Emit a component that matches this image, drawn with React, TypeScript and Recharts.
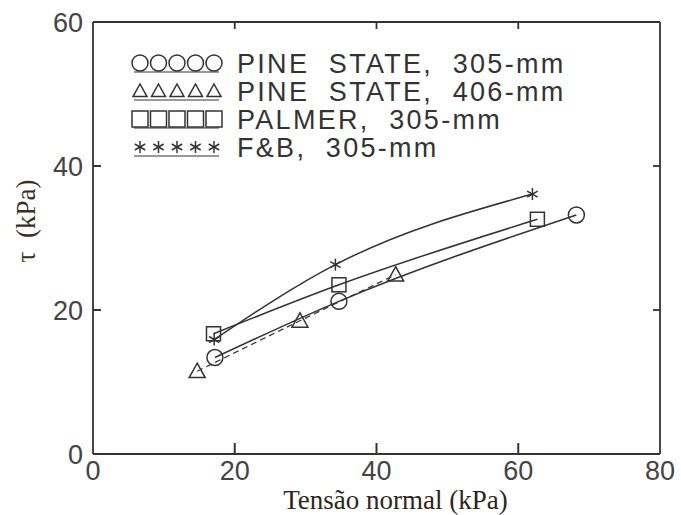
import React from 'react';
import { ComposedChart, Line, XAxis, YAxis, ReferenceLine, Scatter } from 'recharts';

const X_TICKS = [0, 20, 40, 60, 80];
const Y_TICKS = [0, 20, 40, 60];
const SERIES_LABELS = ['PINE  STATE,  305-mm', 'PINE  STATE,  406-mm', 'PALMER,  305-mm', 'F&B,  305-mm'];

const pineState305 = [
  { x: 17.2, y: 13.4 },
  { x: 34.7, y: 21.2 },
  { x: 68.2, y: 33.2 },
];
const pineState406 = [
  { x: 14.7, y: 11.5 },
  { x: 29.2, y: 18.5 },
  { x: 42.7, y: 24.9 },
];
const palmer305 = [
  { x: 17.0, y: 16.7 },
  { x: 34.7, y: 23.5 },
  { x: 62.7, y: 32.6 },
];
const fb305 = [
  { x: 17.1, y: 15.9 },
  { x: 34.2, y: 26.3 },
  { x: 62.0, y: 36.1 },
];

const INK = '#333';
const FONT = 'Liberation Sans, Arial, sans-serif';
const X_MIN = X_TICKS[0];
const X_MAX = X_TICKS[X_TICKS.length - 1];
const Y_MIN = Y_TICKS[0];
const Y_MAX = Y_TICKS[Y_TICKS.length - 1];
const INNER_X = X_TICKS.slice(1, -1);
const INNER_Y = Y_TICKS.slice(1, -1);

// tick anchor points on the frame, derived from the tick arrays
const bottomTickPts = INNER_X.map((v) => ({ x: v, y: Y_MIN }));
const topTickPts = INNER_X.map((v) => ({ x: v, y: Y_MAX }));
const leftTickPts = INNER_Y.map((v) => ({ x: X_MIN, y: v }));
const rightTickPts = INNER_Y.map((v) => ({ x: X_MAX, y: v }));

const circleShape = (cx: number, cy: number, r = 8) => (
  <circle cx={cx} cy={cy} r={r} fill="none" stroke={INK} strokeWidth={1.5} />
);
const triangleShape = (cx: number, cy: number, s = 8) => (
  <path d={`M${cx},${cy - s} L${cx + s},${cy + s * 0.8} L${cx - s},${cy + s * 0.8} Z`} fill="none" stroke={INK} strokeWidth={1.5} />
);
const squareShape = (cx: number, cy: number, s = 7) => (
  <rect x={cx - s} y={cy - s} width={2 * s} height={2 * s} fill="none" stroke={INK} strokeWidth={1.5} />
);
const starShape = (cx: number, cy: number, s = 6) => (
  <g stroke={INK} strokeWidth={1.5}>
    <line x1={cx} y1={cy - s} x2={cx} y2={cy + s} />
    <line x1={cx - s * 0.87} y1={cy - s * 0.5} x2={cx + s * 0.87} y2={cy + s * 0.5} />
    <line x1={cx - s * 0.87} y1={cy + s * 0.5} x2={cx + s * 0.87} y2={cy - s * 0.5} />
  </g>
);

const SHAPES = [circleShape, triangleShape, squareShape, starShape];

const makeDot = (shape: (cx: number, cy: number) => React.ReactElement) => (props: any) => (
  <g key={`d-${props.index}-${props.cx}`}>{shape(props.cx, props.cy)}</g>
);

const tickMark = (dx: number, dy: number, w: number) => (props: any) => {
  const { cx, cy } = props;
  if (cx == null || cy == null) return <g />;
  return <line x1={cx} y1={cy} x2={cx + dx} y2={cy + dy} stroke={INK} strokeWidth={w} />;
};

const BottomTick = (props: any) => {
  const { x, y, payload } = props;
  return (
    <text x={x} y={y + 22} textAnchor="middle" fontFamily={FONT} fontSize={27} fill="#444">
      {payload.value}
    </text>
  );
};
const LeftTick = (props: any) => {
  const { x, y, payload } = props;
  return (
    <text x={x} y={y + 10} textAnchor="end" fontFamily={FONT} fontSize={27} fill="#444">
      {payload.value}
    </text>
  );
};

const LegendBox = () => (
  <svg width={500} height={125} style={{ display: 'block' }}>
    {SERIES_LABELS.map((label, i) => {
      const cy = 14 + i * 28;
      const shape = SHAPES[i];
      return (
        <g key={label}>
          {[0, 1, 2, 3, 4].map((k) => (
            <g key={k}>{shape(18 + k * 18.5, cy, i === 3 ? 6 : i === 1 ? 7 : 8)}</g>
          ))}
          <line x1={12} x2={97} y1={cy + 9} y2={cy + 9} stroke={INK} strokeWidth={1} />
          <text
            x={115}
            y={cy + 10}
            fontFamily={FONT}
            fontSize={27}
            letterSpacing={2.3}
            fill={INK}
            style={{ whiteSpace: 'pre' }}
            xmlSpace="preserve"
          >
            {label}
          </text>
        </g>
      );
    })}
  </svg>
);

const R = { xAxisId: 'b', yAxisId: 'l', ifOverflow: 'visible' as const, stroke: INK };

export default function App() {
  return (
    <div style={{ position: 'absolute', left: 0, top: 0, width: 681, height: 515, background: '#fff' }}>
      <ComposedChart width={681} height={515} margin={{ top: 22, right: 21, bottom: 25, left: 33 }}>
        <XAxis xAxisId="b" type="number" dataKey="x" domain={[X_MIN, X_MAX]} ticks={X_TICKS} orientation="bottom" height={36} tickSize={0} tickLine={false} tickMargin={4} tick={<BottomTick />} stroke={INK} strokeWidth={1.8} allowDataOverflow />
        <YAxis yAxisId="l" type="number" dataKey="y" domain={[Y_MIN, Y_MAX]} ticks={Y_TICKS} orientation="left" width={60} tickSize={0} tickLine={false} tickMargin={10} tick={<LeftTick />} stroke={INK} strokeWidth={1.8} />
        <ReferenceLine {...R} y={Y_MAX} strokeWidth={1.8} />
        <ReferenceLine {...R} x={X_MAX} strokeWidth={1.8} />
        <Scatter xAxisId="b" yAxisId="l" data={bottomTickPts} dataKey="y" shape={tickMark(0, -11, 2)} isAnimationActive={false} legendType="none" />
        <Scatter xAxisId="b" yAxisId="l" data={topTickPts} dataKey="y" shape={tickMark(0, 7, 1.8)} isAnimationActive={false} legendType="none" />
        <Scatter xAxisId="b" yAxisId="l" data={leftTickPts} dataKey="y" shape={tickMark(8, 0, 2)} isAnimationActive={false} legendType="none" />
        <Scatter xAxisId="b" yAxisId="l" data={rightTickPts} dataKey="y" shape={tickMark(-7, 0, 1.8)} isAnimationActive={false} legendType="none" />
        <Line xAxisId="b" yAxisId="l" data={fb305} dataKey="y" type="monotone" stroke={INK} strokeWidth={1.5} dot={makeDot(starShape)} isAnimationActive={false} />
        <Line xAxisId="b" yAxisId="l" data={palmer305} dataKey="y" type="monotone" stroke={INK} strokeWidth={1.5} dot={makeDot(squareShape)} isAnimationActive={false} />
        <Line xAxisId="b" yAxisId="l" data={pineState305} dataKey="y" type="monotone" stroke={INK} strokeWidth={1.5} dot={makeDot(circleShape)} isAnimationActive={false} />
        <Line xAxisId="b" yAxisId="l" data={pineState406} dataKey="y" type="monotone" stroke={INK} strokeWidth={1.2} strokeDasharray="6 4" dot={makeDot(triangleShape)} isAnimationActive={false} />
      </ComposedChart>
      <div style={{ position: 'absolute', left: 122, top: 49 }}>
        <LegendBox />
      </div>
      <svg style={{ position: 'absolute', left: 0, top: 0 }} width={60} height={515}>
        <text
          x={0}
          y={0}
          transform="translate(35,221) rotate(-90)"
          textAnchor="middle"
          fontFamily="Liberation Serif, Times New Roman, serif"
          fontSize={27}
          fill="#3a3022"
          style={{ whiteSpace: 'pre' }}
          xmlSpace="preserve"
        >
          τ  (kPa)
        </text>
      </svg>
      <div
        style={{
          position: 'absolute',
          left: 0,
          width: 681,
          top: 485,
          paddingLeft: 110,
          boxSizing: 'border-box',
          textAlign: 'center',
          fontFamily: 'Liberation Serif, Times New Roman, serif',
          fontSize: 27,
          color: '#2e261c',
          lineHeight: '30px',
        }}
      >
        Tensão normal (kPa)
      </div>
    </div>
  );
}
